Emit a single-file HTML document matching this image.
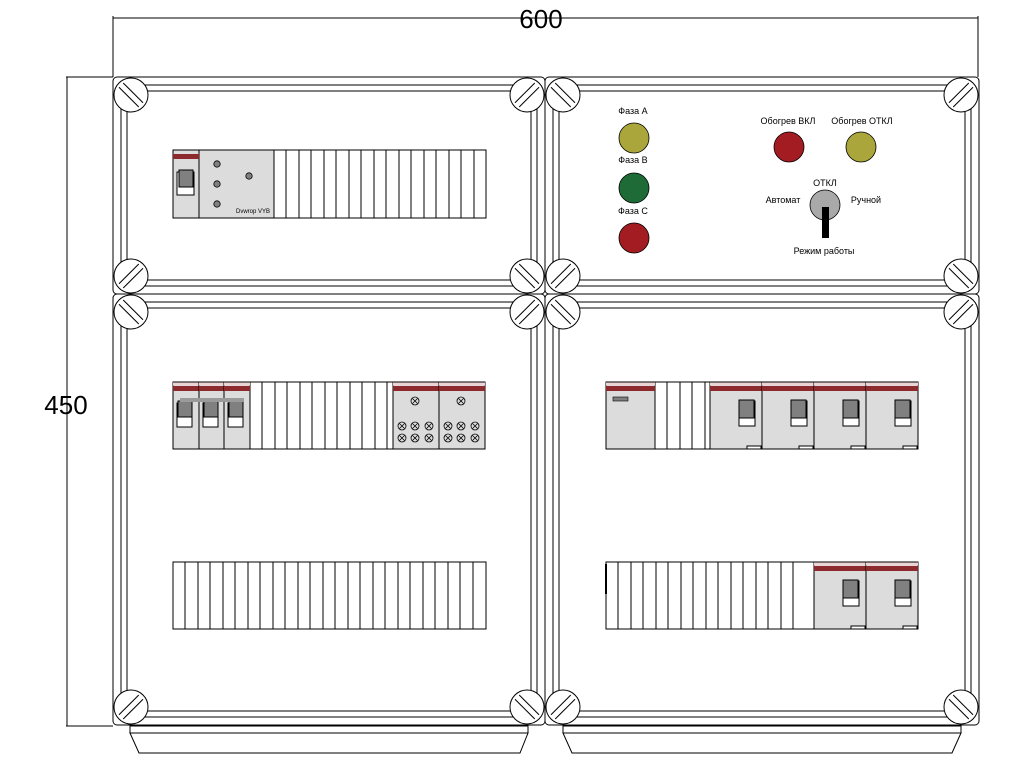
<!DOCTYPE html>
<html><head><meta charset="utf-8"><style>
html,body{margin:0;padding:0;background:#fff}
svg{display:block}
text{font-family:"Liberation Sans",sans-serif}
</style></head><body>
<svg width="1024" height="768" viewBox="0 0 1024 768" xmlns="http://www.w3.org/2000/svg">
<defs>
<g id="s"><circle r="17" fill="#fff" stroke="#000" stroke-width="1"/><line x1="-14" y1="-3" x2="14" y2="-3" stroke="#000"/><line x1="-14" y1="3" x2="14" y2="3" stroke="#000"/></g>
<g id="brk"><rect x="0" y="0" width="26" height="67" fill="#dcdcdc" stroke="#000"/><rect x="0" y="0.5" width="26" height="3" fill="#ecd4d4"/><rect x="0" y="4" width="26" height="5" fill="#8c2a2e"/><rect x="4" y="21" width="15" height="24" fill="#fff" stroke="#000"/><rect x="5" y="19" width="14" height="16" fill="#808080" stroke="#000"/></g>
<g id="big"><rect x="0" y="0" width="52" height="67" fill="#dcdcdc" stroke="#000"/><rect x="0" y="0.5" width="52" height="3" fill="#ecd4d4"/><rect x="0" y="4" width="52" height="5" fill="#8c2a2e"/><rect x="29" y="19" width="16" height="25" fill="#fff" stroke="#000"/><rect x="29" y="18" width="15" height="18" fill="#808080" stroke="#000"/><rect x="37" y="64" width="14" height="3" fill="#fff" stroke="#000"/></g>
<g id="x"><circle r="4" fill="none" stroke="#000" stroke-width="0.8"/><line x1="-2.5" y1="-2.5" x2="2.5" y2="2.5" stroke="#000" stroke-width="0.8"/><line x1="-2.5" y1="2.5" x2="2.5" y2="-2.5" stroke="#000" stroke-width="0.8"/></g>
<g id="term"><rect x="0" y="0" width="46" height="67" fill="#dcdcdc" stroke="#000"/><rect x="0" y="0.5" width="46" height="3" fill="#ecd4d4"/><rect x="0" y="4" width="46" height="5" fill="#8c2a2e"/><use href="#x" x="22" y="19"/><use href="#x" x="9" y="44"/><use href="#x" x="22" y="44"/><use href="#x" x="36" y="44"/><use href="#x" x="9" y="56"/><use href="#x" x="22" y="56"/><use href="#x" x="36" y="56"/></g>
</defs>
<g stroke="#000" stroke-width="1" fill="none">
<!-- dimensions -->
<line x1="113" y1="18" x2="978" y2="18"/><line x1="113" y1="16" x2="113" y2="77"/><line x1="978" y1="16" x2="978" y2="77"/>
<line x1="67" y1="77" x2="67" y2="726"/><line x1="66" y1="77" x2="113" y2="77"/><line x1="66" y1="726" x2="113" y2="726"/>
<!-- panels -->
<rect x="113" y="77" width="432" height="217" rx="4"/><rect x="121" y="85" width="416" height="201"/><rect x="127" y="91" width="404" height="189"/>
<rect x="545" y="77" width="434" height="217" rx="4"/><rect x="553" y="85" width="418" height="201"/><rect x="559" y="91" width="406" height="189"/>
<rect x="113" y="294" width="432" height="431" rx="4"/><rect x="121" y="302" width="416" height="415"/><rect x="127" y="308" width="404" height="403"/>
<rect x="545" y="294" width="434" height="431" rx="4"/><rect x="553" y="302" width="418" height="415"/><rect x="559" y="308" width="406" height="403"/>
<!-- bases -->
<rect x="130" y="726" width="398" height="7"/><polygon points="130,733 139,753 520,753 528,733"/>
<rect x="563" y="726" width="398" height="7"/><polygon points="563,733 572,753 952,753 961,733"/>
</g>
<!-- screws -->
<use href="#s" transform="translate(131,95) rotate(45)"/><use href="#s" transform="translate(527,95) rotate(-45)"/>
<use href="#s" transform="translate(131,276) rotate(-45)"/><use href="#s" transform="translate(527,276) rotate(45)"/>
<use href="#s" transform="translate(563,95) rotate(45)"/><use href="#s" transform="translate(961,95) rotate(-45)"/>
<use href="#s" transform="translate(563,276) rotate(-45)"/><use href="#s" transform="translate(961,276) rotate(45)"/>
<use href="#s" transform="translate(131,312) rotate(45)"/><use href="#s" transform="translate(527,312) rotate(-45)"/>
<use href="#s" transform="translate(131,707) rotate(-45)"/><use href="#s" transform="translate(527,707) rotate(45)"/>
<use href="#s" transform="translate(563,312) rotate(45)"/><use href="#s" transform="translate(961,312) rotate(-45)"/>
<use href="#s" transform="translate(563,707) rotate(-45)"/><use href="#s" transform="translate(961,707) rotate(45)"/>

<text x="541" y="28" font-size="26" text-anchor="middle">600</text>
<text x="66" y="414" font-size="26" text-anchor="middle">450</text>

<!-- top-left strip -->
<rect x="274" y="150" width="212" height="68" fill="#fff" stroke="#000"/>
<g stroke="#000">
<line x1="286" y1="150" x2="286" y2="218"/><line x1="299" y1="150" x2="299" y2="218"/><line x1="311" y1="150" x2="311" y2="218"/><line x1="324" y1="150" x2="324" y2="218"/><line x1="336" y1="150" x2="336" y2="218"/><line x1="349" y1="150" x2="349" y2="218"/><line x1="361" y1="150" x2="361" y2="218"/><line x1="374" y1="150" x2="374" y2="218"/><line x1="386" y1="150" x2="386" y2="218"/><line x1="399" y1="150" x2="399" y2="218"/><line x1="411" y1="150" x2="411" y2="218"/><line x1="424" y1="150" x2="424" y2="218"/><line x1="436" y1="150" x2="436" y2="218"/><line x1="449" y1="150" x2="449" y2="218"/><line x1="461" y1="150" x2="461" y2="218"/><line x1="474" y1="150" x2="474" y2="218"/>
</g>
<rect x="199" y="150" width="75" height="68" fill="#dcdcdc" stroke="#000"/>
<rect x="173" y="150" width="26" height="68" fill="#dcdcdc" stroke="#000"/>
<rect x="173" y="154" width="26" height="5" fill="#8c2a2e"/>
<rect x="177" y="172" width="17" height="23" fill="#fff" stroke="#000"/><rect x="179" y="170" width="14" height="17" fill="#808080" stroke="#000"/>
<g fill="#808080" stroke="#000" stroke-width="0.8"><circle cx="217" cy="164" r="3.2"/><circle cx="217" cy="184" r="3.2"/><circle cx="217" cy="204" r="3.2"/><circle cx="249" cy="176" r="3.2"/></g>
<text x="253" y="213" font-size="6" text-anchor="middle">Dvwrop VYB</text>

<!-- top-right panel -->
<g font-size="9" text-anchor="middle">
<text x="633" y="114">Фаза А</text><text x="633" y="163">Фаза В</text><text x="633" y="214">Фаза С</text>
<text x="788" y="124">Обогрев ВКЛ</text><text x="862" y="124">Обогрев ОТКЛ</text>
<text x="825" y="186">ОТКЛ</text><text x="783" y="203">Автомат</text><text x="866" y="203">Ручной</text>
<text x="824" y="254">Режим работы</text>
</g>
<g stroke="#000" stroke-width="0.8">
<circle cx="634" cy="138" r="15" fill="#aaa63c"/><circle cx="634" cy="188" r="15" fill="#1e6b38"/><circle cx="634" cy="238" r="15" fill="#a21c22"/>
<circle cx="789" cy="147" r="15" fill="#a21c22"/><circle cx="861" cy="147" r="15" fill="#aaa63c"/>
<circle cx="825" cy="205" r="15" fill="#a9a9a9"/>
</g>
<rect x="822" y="207" width="7" height="31" fill="#000"/>

<!-- bottom-left row1 -->
<rect x="250" y="382" width="143" height="67" fill="#fff" stroke="#000"/>
<g stroke="#000">
<line x1="262" y1="382" x2="262" y2="449"/><line x1="275" y1="382" x2="275" y2="449"/><line x1="287" y1="382" x2="287" y2="449"/><line x1="300" y1="382" x2="300" y2="449"/><line x1="312" y1="382" x2="312" y2="449"/><line x1="325" y1="382" x2="325" y2="449"/><line x1="337" y1="382" x2="337" y2="449"/><line x1="350" y1="382" x2="350" y2="449"/><line x1="362" y1="382" x2="362" y2="449"/><line x1="375" y1="382" x2="375" y2="449"/><line x1="387" y1="382" x2="387" y2="449"/>
</g>
<use href="#brk" x="173" y="382"/><use href="#brk" x="199" y="382"/><use href="#brk" x="224" y="382"/>
<rect x="180" y="398" width="64" height="4" fill="#9a9a9a"/>
<use href="#term" x="393" y="382"/><use href="#term" x="439" y="382"/>

<!-- bottom-left row2 -->
<rect x="173" y="562" width="313" height="67" fill="#fff" stroke="#000"/>
<g stroke="#000">
<line x1="185" y1="562" x2="185" y2="629"/><line x1="198" y1="562" x2="198" y2="629"/><line x1="210" y1="562" x2="210" y2="629"/><line x1="223" y1="562" x2="223" y2="629"/><line x1="235" y1="562" x2="235" y2="629"/><line x1="248" y1="562" x2="248" y2="629"/><line x1="260" y1="562" x2="260" y2="629"/><line x1="273" y1="562" x2="273" y2="629"/><line x1="285" y1="562" x2="285" y2="629"/><line x1="298" y1="562" x2="298" y2="629"/><line x1="310" y1="562" x2="310" y2="629"/><line x1="323" y1="562" x2="323" y2="629"/><line x1="335" y1="562" x2="335" y2="629"/><line x1="348" y1="562" x2="348" y2="629"/><line x1="360" y1="562" x2="360" y2="629"/><line x1="373" y1="562" x2="373" y2="629"/><line x1="385" y1="562" x2="385" y2="629"/><line x1="398" y1="562" x2="398" y2="629"/><line x1="410" y1="562" x2="410" y2="629"/><line x1="423" y1="562" x2="423" y2="629"/><line x1="435" y1="562" x2="435" y2="629"/><line x1="448" y1="562" x2="448" y2="629"/><line x1="460" y1="562" x2="460" y2="629"/><line x1="473" y1="562" x2="473" y2="629"/>
</g>

<!-- bottom-right row1 -->
<rect x="655" y="382" width="55" height="67" fill="#fff" stroke="#000"/>
<g stroke="#000"><line x1="667" y1="382" x2="667" y2="449"/><line x1="680" y1="382" x2="680" y2="449"/><line x1="692" y1="382" x2="692" y2="449"/><line x1="705" y1="382" x2="705" y2="449"/></g>
<rect x="606" y="382" width="49" height="67" fill="#dcdcdc" stroke="#000"/>
<rect x="606" y="382.5" width="49" height="3" fill="#ecd4d4"/><rect x="606" y="386" width="49" height="5" fill="#8c2a2e"/>
<rect x="613" y="397" width="15" height="4" fill="#808080" stroke="#000" stroke-width="0.6"/>
<use href="#big" x="710" y="382"/><use href="#big" x="762" y="382"/><use href="#big" x="814" y="382"/><use href="#big" x="866" y="382"/>

<!-- bottom-right row2 -->
<rect x="606" y="562" width="208" height="67" fill="#fff" stroke="#000"/>
<g stroke="#000">
<line x1="618" y1="562" x2="618" y2="629"/><line x1="631" y1="562" x2="631" y2="629"/><line x1="643" y1="562" x2="643" y2="629"/><line x1="656" y1="562" x2="656" y2="629"/><line x1="668" y1="562" x2="668" y2="629"/><line x1="681" y1="562" x2="681" y2="629"/><line x1="693" y1="562" x2="693" y2="629"/><line x1="706" y1="562" x2="706" y2="629"/><line x1="718" y1="562" x2="718" y2="629"/><line x1="731" y1="562" x2="731" y2="629"/><line x1="743" y1="562" x2="743" y2="629"/><line x1="756" y1="562" x2="756" y2="629"/><line x1="768" y1="562" x2="768" y2="629"/><line x1="781" y1="562" x2="781" y2="629"/><line x1="793" y1="562" x2="793" y2="629"/>
</g>
<line x1="606" y1="564" x2="606" y2="594" stroke="#000" stroke-width="2"/>
<use href="#big" x="814" y="562"/><use href="#big" x="866" y="562"/>
</svg>
</body></html>
